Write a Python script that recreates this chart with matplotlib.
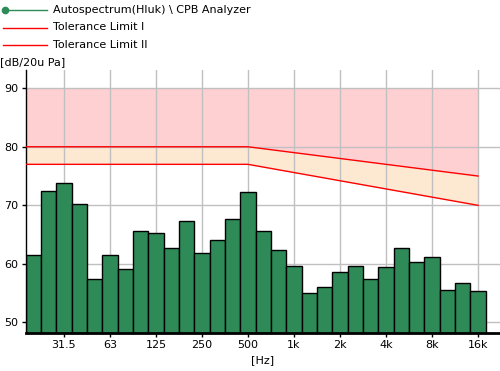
import matplotlib
matplotlib.use("Agg")
import matplotlib.pyplot as plt
from matplotlib.lines import Line2D
import numpy as np

bands = ['20', '25', '31.5', '40', '50', '63', '80', '100', '125', '160', '200', '250',
         '315', '400', '500', '630', '800', '1k', '1.25k', '1.6k', '2k', '2.5k', '3.15k',
         '4k', '5k', '6.3k', '8k', '10k', '12.5k', '16k']
levels = [61.5, 72.4, 73.8, 70.2, 57.4, 61.5, 59.2, 65.6, 65.2, 62.7, 67.4, 61.8,
          64.0, 67.6, 72.2, 65.6, 62.3, 59.6, 55.1, 56.0, 58.7, 59.6, 57.4,
          59.4, 62.7, 60.3, 61.1, 55.6, 56.8, 55.3]
tick_labels = ['31.5', '63', '125', '250', '500', '1k', '2k', '4k', '8k', '16k']
limit_bands = ['20', '500', '16k']
limit1 = [80, 80, 75]
limit2 = [77, 77, 70]
limit_top = 90
legend_labels = ['Autospectrum(Hluk) \\ CPB Analyzer', 'Tolerance Limit I', 'Tolerance Limit II']
legend_colors = ['#2E8B57', 'red', 'red']

plt.rcParams['font.family'] = ['DejaVu Sans']
W, H = 500, 371
fig = plt.figure(figsize=(5.0, 3.71), dpi=100)
ax = fig.add_axes([0.051, 0.1024, 0.949, 0.7088])

x = np.arange(len(bands))
idx = {b: i for i, b in enumerate(bands)}
lx = np.array([idx[b] for b in limit_bands], dtype=float)
lx[0] = -0.5

ax.set_axisbelow(True)
ax.fill_between(lx, limit1, limit_top, color='#FFD0D2', lw=0, zorder=0.2)
ax.fill_between(lx, limit2, limit1, color='#FDE8D2', lw=0, zorder=0.2)
ax.plot(lx, limit1, color='red', lw=1.0, zorder=3)
ax.plot(lx, limit2, color='red', lw=1.0, zorder=3)

ax.bar(x, np.array(levels) - 40, bottom=40, width=1.0, color='#2E8B57',
       edgecolor='black', linewidth=1.0, zorder=2)

ax.set_xlim(-0.5, 30.43)
ax.set_ylim(48.2, 93.1)
ax.set_yticks([50, 60, 70, 80, 90])
ax.set_xticks([idx[t] for t in tick_labels])
ax.set_xticklabels(tick_labels)
ax.grid(True, color='#C0C0C0', lw=1.0)
for s in ['top', 'right']:
    ax.spines[s].set_visible(False)
ax.spines['left'].set_linewidth(1.0)
ax.spines['bottom'].set_linewidth(2.0)
ax.tick_params(axis='both', labelsize=8, length=3, width=1, pad=2)
ax.set_xlabel('[Hz]', fontsize=8, labelpad=4)
fig.text(0.0, 1 - 62 / H, '[dB/20u Pa]', fontsize=8, ha='left', va='center')

# manual legend
rows = [10, 27.5, 45]
for i, (lab, col) in enumerate(zip(legend_labels, legend_colors)):
    yy = 1 - rows[i] / H
    fig.add_artist(Line2D([3 / W, 47 / W], [yy, yy], color=col, lw=1,
                          transform=fig.transFigure))
    if i == 0:
        fig.add_artist(Line2D([5 / W], [yy], color=col, marker='o', markersize=4.5,
                              transform=fig.transFigure))
    fig.text(53 / W, yy, lab, fontsize=8, ha='left', va='center')

fig.savefig('out.png', dpi=100)
